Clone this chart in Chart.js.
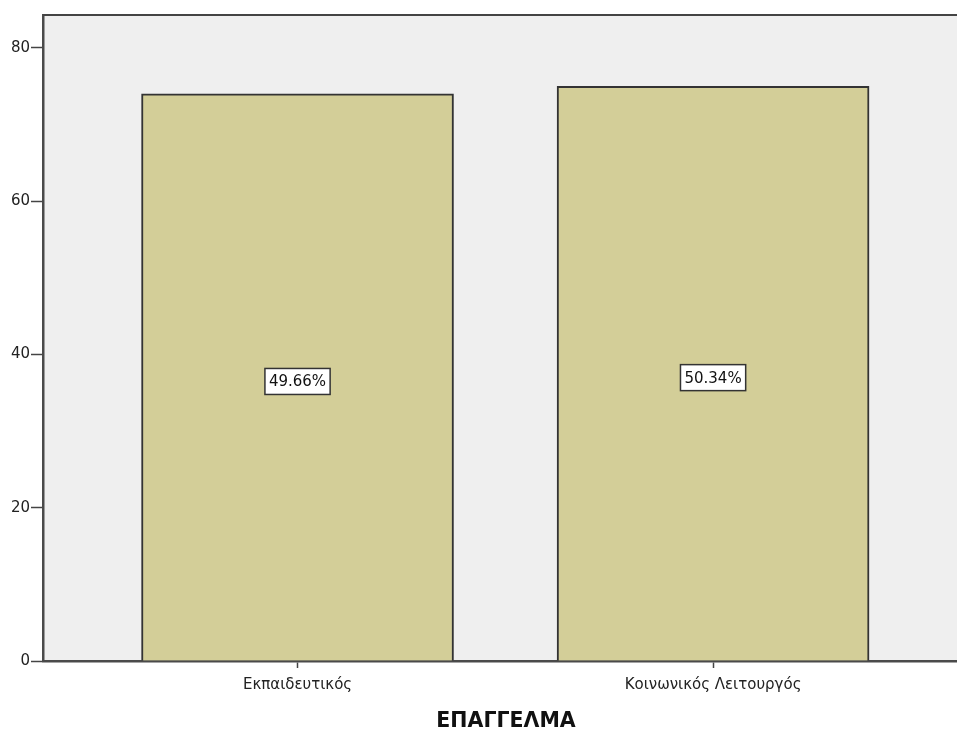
<!DOCTYPE html>
<html>
<head>
<meta charset="utf-8">
<script src="https://cdn.jsdelivr.net/npm/chart.js@4/dist/chart.umd.min.js"></script>
<style>
html,body{margin:0;padding:0;background:#fff;}
canvas{display:block;}
</style>
</head>
<body>
<canvas id="c" width="957" height="733"></canvas>
<script>
const categories = ["Εκπαιδευτικός", "Κοινωνικός Λειτουργός"];
const counts = [74, 75];
const percentLabels = ["49.66%", "50.34%"];
const yTicks = [0, 20, 40, 60, 80];
const axisTitle = "ΕΠΑΓΓΕΛΜΑ";

const FONT = "'DejaVu Sans', Verdana, sans-serif";

const bgPlugin = {
  id: 'bg',
  beforeDraw(chart) {
    const {ctx, chartArea: a} = chart;
    ctx.save();
    ctx.fillStyle = '#EFEFEF';
    ctx.fillRect(a.left, a.top, a.right - a.left, a.bottom - a.top);
    ctx.restore();
  },
  afterDatasetsDraw(chart) {
    const {ctx, chartArea: a} = chart;
    ctx.save();
    ctx.strokeStyle = '#444';
    ctx.lineWidth = 2;
    ctx.beginPath();
    ctx.moveTo(a.left, a.top);
    ctx.lineTo(a.right, a.top);
    ctx.stroke();
    // labels
    const meta = chart.getDatasetMeta(0);
    const ys = chart.scales.y;
    ctx.font = '15px ' + FONT;
    ctx.textAlign = 'center';
    ctx.textBaseline = 'middle';
    meta.data.forEach((bar, i) => {
      const cx = bar.x;
      const cy = ys.getPixelForValue(counts[i] / 2) + 4;
      const w = ctx.measureText(percentLabels[i]).width + 8;
      const h = 26;
      ctx.fillStyle = '#fff';
      ctx.fillRect(cx - w / 2, cy - h / 2, w, h);
      ctx.strokeStyle = '#333';
      ctx.lineWidth = 1.5;
      ctx.strokeRect(cx - w / 2, cy - h / 2, w, h);
      ctx.fillStyle = '#111';
      ctx.fillText(percentLabels[i], cx, cy + 1);
    });
    // axis title
    ctx.font = 'bold 20.5px ' + FONT;
    ctx.fillStyle = '#111';
    ctx.fillText(axisTitle, 506, 722);
    ctx.restore();
  }
};

new Chart(document.getElementById('c'), {
  type: 'bar',
  data: {
    datasets: [{
      data: counts.map((v, i) => ({x: i, y: v})),
      backgroundColor: '#D3CE98',
      borderColor: '#333',
      borderWidth: 2,
      barThickness: 312
    }]
  },
  options: {
    responsive: false,
    animation: false,
    layout: {padding: {top: 15, right: 0, left: 0, bottom: 0}},
    plugins: {legend: {display: false}, tooltip: {enabled: false}},
    scales: {
      x: {
        type: 'linear',
        offset: false,
        min: -0.6125,
        max: 1.587,
        afterBuildTicks(scale) { scale.ticks = [{value: 0}, {value: 1}]; },
        afterFit(scale) { scale.height = 72; },
        ticks: {
          callback: (v) => categories[v],
          font: {size: 15, family: FONT},
          color: '#222',
          padding: 8,
          maxRotation: 0,
          autoSkip: false
        },
        grid: {offset: false, drawOnChartArea: false, tickLength: 7, color: '#444', tickWidth: 1.5},
        border: {color: '#4a4a4a', width: 2.5}
      },
      y: {
        min: 0,
        max: 84.3,
        afterBuildTicks(scale) { scale.ticks = yTicks.map(v => ({value: v})); },
        afterFit(scale) { scale.width = 43; },
        ticks: {
          font: {size: 15, family: FONT},
          color: '#222',
          padding: 1
        },
        grid: {drawOnChartArea: false, tickLength: 12, color: '#444', tickWidth: 1.5},
        border: {color: '#4a4a4a', width: 2.5}
      }
    }
  },
  plugins: [bgPlugin]
});
</script>
</body>
</html>
